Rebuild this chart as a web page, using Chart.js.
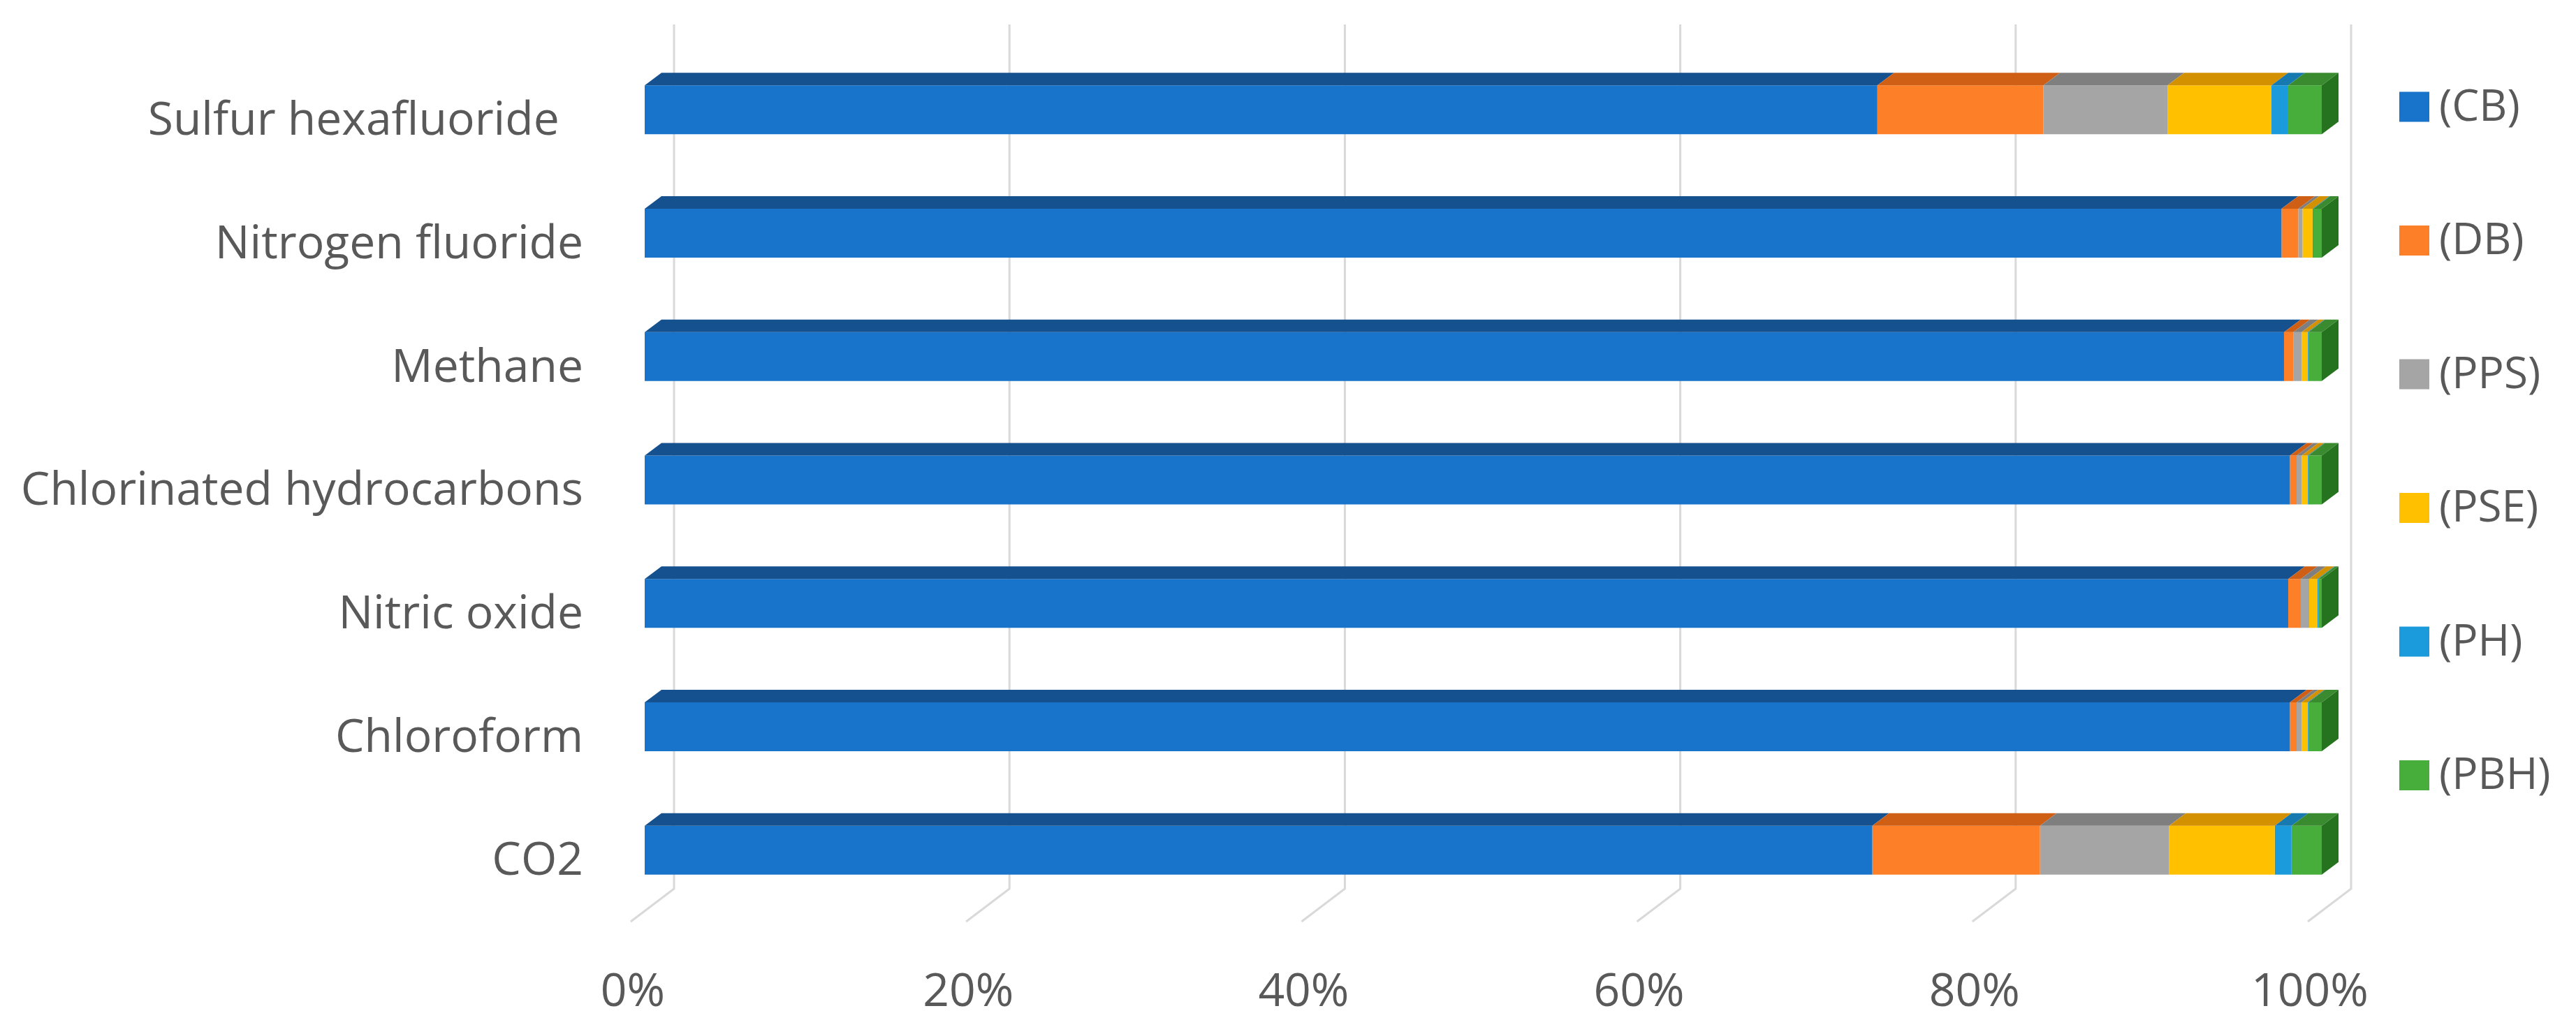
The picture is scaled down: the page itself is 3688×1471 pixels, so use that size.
<!doctype html>
<html lang="en">
<head>
	<meta charset="utf-8">
	<title>Gas shares by source</title>
	<style>
		html, body { margin: 0; padding: 0; background: #ffffff; }
		#holder { width: 3688px; height: 1471px; }
	</style>
</head>
<body>
	<div id="holder"><canvas id="gasShareChart" width="3688" height="1471"></canvas></div>
	<script src="https://cdn.jsdelivr.net/npm/chart.js@4.4.1/dist/chart.umd.min.js"></script>
	<script>
		// categories, top to bottom (the first label carries trailing spaces in the original)
		var gasLabels = ["Sulfur hexafluoride  ", "Nitrogen fluoride", "Methane", "Chlorinated hydrocarbons", "Nitric oxide", "Chloroform", "CO2"];
		var seriesLabels = ["(CB)", "(DB)", "(PPS)", "(PSE)", "(PH)", "(PBH)"];

		// shares in percent
		var cbShare  = [73.5, 97.6, 97.75, 98.1, 98.0, 98.1, 73.2];
		var dbShare  = [9.9, 1.0, 0.55, 0.4, 0.75, 0.4, 10.0];
		var ppsShare = [7.4, 0.25, 0.5, 0.3, 0.5, 0.3, 7.7];
		var pseShare = [6.2, 0.6, 0.35, 0.35, 0.5, 0.35, 6.3];
		var phShare  = [1.0, 0.05, 0.05, 0.05, 0.05, 0.05, 1.0];
		var pbhShare = [2.0, 0.5, 0.8, 0.8, 0.2, 0.8, 1.8];

		var xTickValues = [0, 20, 40, 60, 80, 100];

		// colours: front, top face, side face
		var frontColors = ['#1873CB', '#FD7F27', '#A5A5A5', '#FFC000', '#1B9BDB', '#47AD3B'];
		var topColors = ['#16518F', '#D05F16', '#7F7F7F', '#D39100', '#1679B0', '#3A8B30'];
		var sideColors = ['#123F70', '#A84C12', '#666666', '#A87300', '#115E8A', '#26731F'];

		var seriesData = [cbShare, dbShare, ppsShare, pseShare, phShare, pbhShare];

		var DX = 24, DY = 18;
		var labelFont = "'Open Sans', 'Noto Sans', sans-serif";

		var depthPlugin = {
			id: 'depth',
			beforeDatasetsDraw: function(chart)
			{
				var ctx = chart.ctx;
				var area = chart.chartArea;
				var xs = chart.scales.x;
				ctx.save();
				ctx.strokeStyle = '#D9D9D9';
				ctx.lineWidth = 3;
				xs.ticks.forEach(function(t)
				{
					var px = xs.getPixelForValue(t.value);
					ctx.beginPath();
					ctx.moveTo(px + 42, area.top - 34);
					ctx.lineTo(px + 42, area.bottom - 33);
					ctx.lineTo(px - 20, area.bottom + 14);
					ctx.stroke();
				});
				ctx.restore();
			},
			afterDatasetsDraw: function(chart)
			{
				var ctx = chart.ctx;
				var last = chart.data.datasets.length - 1;
				ctx.save();
				chart.data.datasets.forEach(function(ds, d)
				{
					var meta = chart.getDatasetMeta(d);
					meta.data.forEach(function(bar, i)
					{
						var p = bar.getProps(['x', 'y', 'base', 'height'], true);
						var left = Math.min(p.x, p.base);
						var right = Math.max(p.x, p.base);
						if (right - left < 0.01) { return; }
						var top = p.y - p.height / 2;
						var bottom = p.y + p.height / 2;

						ctx.fillStyle = topColors[d];
						ctx.beginPath();
						ctx.moveTo(left, top);
						ctx.lineTo(left + DX, top - DY);
						ctx.lineTo(right + DX, top - DY);
						ctx.lineTo(right, top);
						ctx.closePath();
						ctx.fill();

						if (d === last)
						{
							ctx.fillStyle = sideColors[d];
							ctx.beginPath();
							ctx.moveTo(right, top);
							ctx.lineTo(right + DX, top - DY);
							ctx.lineTo(right + DX, bottom - DY);
							ctx.lineTo(right, bottom);
							ctx.closePath();
							ctx.fill();
						}
					});
				});
				ctx.restore();
			}
		};

		var sideLegend = {
			id: 'sideLegend',
			afterDraw: function(chart)
			{
				var ctx = chart.ctx;
				ctx.save();
				ctx.font = "62px " + labelFont;
				ctx.textBaseline = 'middle';
				ctx.textAlign = 'left';
				chart.data.datasets.forEach(function(ds, d)
				{
					var cy = 153 + d * 191.5;
					ctx.fillStyle = ds.backgroundColor;
					ctx.fillRect(3435, cy - 21.5, 43, 43);
					ctx.fillStyle = '#595959';
					ctx.fillText(ds.label, 3492, cy + 2);
				});
				ctx.restore();
			}
		};

		var datasets = seriesData.map(function(values, d)
		{
			return {
				label: seriesLabels[d],
				data: values,
				backgroundColor: frontColors[d],
				borderWidth: 0,
				barPercentage: 0.396,
				categoryPercentage: 1
			};
		});

		var gasShareChart = new Chart(document.getElementById('gasShareChart'), {
			type: 'bar',
			data: {
				labels: gasLabels,
				datasets: datasets
			},
			options: {
				indexAxis: 'y',
				responsive: false,
				animation: false,
				layout: { padding: { top: 69, right: 364, bottom: 0, left: 0 } },
				plugins: {
					legend: { display: false },
					tooltip: { enabled: false }
				},
				scales: {
					x: {
						stacked: true,
						min: 0,
						max: 100,
						grid: { display: false, drawTicks: false },
						border: { display: false },
						afterBuildTicks: function(scale)
						{
							scale.ticks = xTickValues.map(function(v) { return { value: v }; });
						},
						afterFit: function(scale)
						{
							scale.height = 165;
							scale.paddingLeft = 0;
							scale.paddingRight = 0;
						},
						ticks: {
							padding: 77,
							labelOffset: -17,
							maxRotation: 0,
							autoSkip: false,
							color: '#595959',
							font: { family: labelFont, size: 66 },
							callback: function(v) { return v + '%'; }
						}
					},
					y: {
						stacked: true,
						grid: { display: false, drawTicks: false },
						border: { display: false },
						afterFit: function(scale)
						{
							scale.width = 923;
							scale.paddingTop = 0;
							scale.paddingBottom = 0;
						},
						ticks: {
							padding: 88,
							labelOffset: 17,
							color: '#595959',
							font: { family: labelFont, size: 66 }
						}
					}
				}
			},
			plugins: [depthPlugin, sideLegend]
		});
	</script>
</body>
</html>
